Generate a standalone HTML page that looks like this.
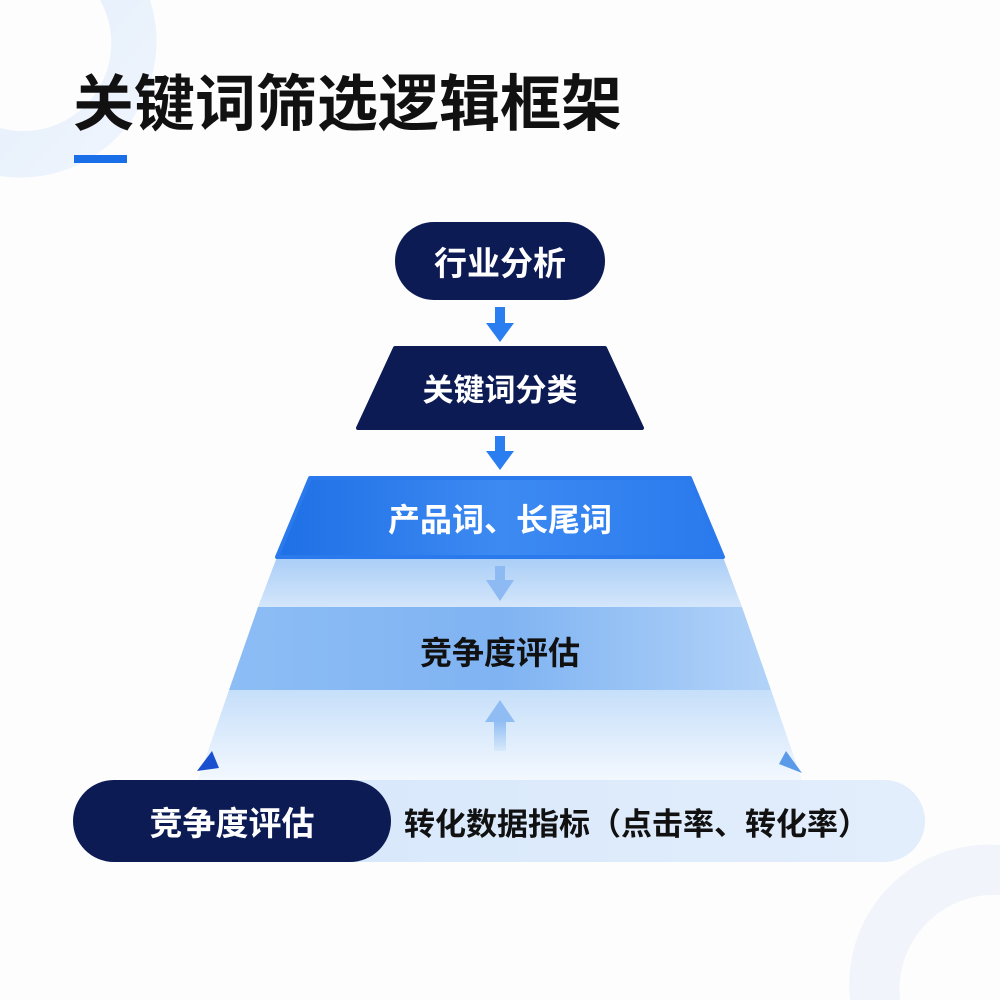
<!DOCTYPE html>
<html><head><meta charset="utf-8"><style>
html,body{margin:0;padding:0;background:#fdfdfd;width:1000px;height:1000px;overflow:hidden;}
svg{display:block;font-family:"Liberation Sans","Noto Sans CJK SC",sans-serif;}
</style></head><body>
<svg width="1000" height="1000" viewBox="0 0 1000 1000" xmlns="http://www.w3.org/2000/svg">
<defs>
<linearGradient id="ring" x1="0" y1="0" x2="1" y2="1"><stop offset="0" stop-color="#e3eefc"/><stop offset="1" stop-color="#f1f6fd"/></linearGradient>
<linearGradient id="top3" x1="0" y1="0" x2="1" y2="0"><stop offset="0" stop-color="#1f6fe6"/><stop offset="0.5" stop-color="#3d8af2"/><stop offset="1" stop-color="#2a7aee"/></linearGradient>
<linearGradient id="band1" x1="0" y1="0" x2="0" y2="1"><stop offset="0" stop-color="#a9cdf6"/><stop offset="1" stop-color="#d4e6fb"/></linearGradient>
<linearGradient id="band2" x1="0" y1="0" x2="1" y2="0"><stop offset="0" stop-color="#8dbdf5"/><stop offset="0.5" stop-color="#7fb3f2"/><stop offset="1" stop-color="#b2d3f8"/></linearGradient>
<linearGradient id="band3" x1="0" y1="0" x2="0" y2="1"><stop offset="0" stop-color="#c6dffa"/><stop offset="1" stop-color="#f3f8fe"/></linearGradient>
<linearGradient id="pill" x1="0" y1="0" x2="1" y2="0"><stop offset="0" stop-color="#d3e5fa"/><stop offset="1" stop-color="#e3eefc"/></linearGradient>
<linearGradient id="uparr" x1="0" y1="0" x2="0" y2="1"><stop offset="0" stop-color="#8fbdf3"/><stop offset="1" stop-color="#d9e9fb"/></linearGradient>
</defs>
<rect width="1000" height="1000" fill="#fdfdfd"/>
<path d="M0,0 L150,0 A136,136 0 0 1 0,176 L0,128 A88,88 0 0 0 100,0 Z" fill="url(#ring)"/>
<path d="M850,1000 A140,140 0 0 1 1000,845 L1000,895 A95,95 0 0 0 900,1000 Z" fill="#f1f5fb"/>
<text x="73" y="125" font-size="61" font-weight="bold" fill="#111">关键词筛选逻辑框架</text>
<rect x="74" y="155" width="53" height="8" fill="#1a6fe8"/>
<rect x="395" y="222" width="210" height="78" rx="39" fill="#0d1b55"/>
<text x="500" y="275" font-size="33" font-weight="bold" fill="#fff" text-anchor="middle">行业分析</text>
<rect x="495" y="307" width="10" height="18" fill="#2a7ef0"/>
<polygon points="486,323 514,323 500,342" fill="#2a7ef0"/>
<polygon points="395,348 605,348 642,428 358,428" fill="#0d1b55" stroke="#0d1b55" stroke-width="4" stroke-linejoin="round"/>
<text x="500" y="401" font-size="31" font-weight="bold" fill="#fff" text-anchor="middle">关键词分类</text>
<rect x="495" y="436" width="10" height="17" fill="#2a7ef0"/>
<polygon points="486,451 514,451 500,470" fill="#2a7ef0"/>
<polygon points="258,607 742,607 771,690 229,690" fill="url(#band2)"/>
<polygon points="277,557 723,557 742,607 258,607" fill="url(#band1)"/>
<polygon points="229,690 771,690 802,780 198,780" fill="url(#band3)"/>
<polygon points="310,478 690,478 723,557 277,557" fill="url(#top3)" stroke="#2a7aee" stroke-width="4" stroke-linejoin="round"/>
<text x="500" y="531" font-size="32" font-weight="bold" fill="#fff" text-anchor="middle">产品词、长尾词</text>
<rect x="495" y="566" width="10" height="16" fill="#8dbaf2"/>
<polygon points="486,580 514,580 500,601" fill="#8dbaf2"/>
<text x="500" y="664" font-size="32" font-weight="bold" fill="#111" text-anchor="middle">竞争度评估</text>
<polygon points="485,722 515,722 500,700" fill="#8fbdf3"/>
<rect x="494" y="721" width="12" height="30" fill="url(#uparr)"/>
<polygon points="212,751 197,771 219,768" fill="#1a4fd0"/>
<polygon points="786,751 802,773 779,764" fill="#5a9ae8"/>
<rect x="73" y="780" width="852" height="82" rx="41" fill="url(#pill)"/>
<rect x="73" y="780" width="318" height="82" rx="41" fill="#0d1b55"/>
<text x="232" y="835" font-size="33" font-weight="bold" fill="#fff" text-anchor="middle">竞争度评估</text>
<text x="404" y="835" font-size="31" font-weight="bold" fill="#111">转化数据指标（点击率、转化率）</text>
</svg>
</body></html>
